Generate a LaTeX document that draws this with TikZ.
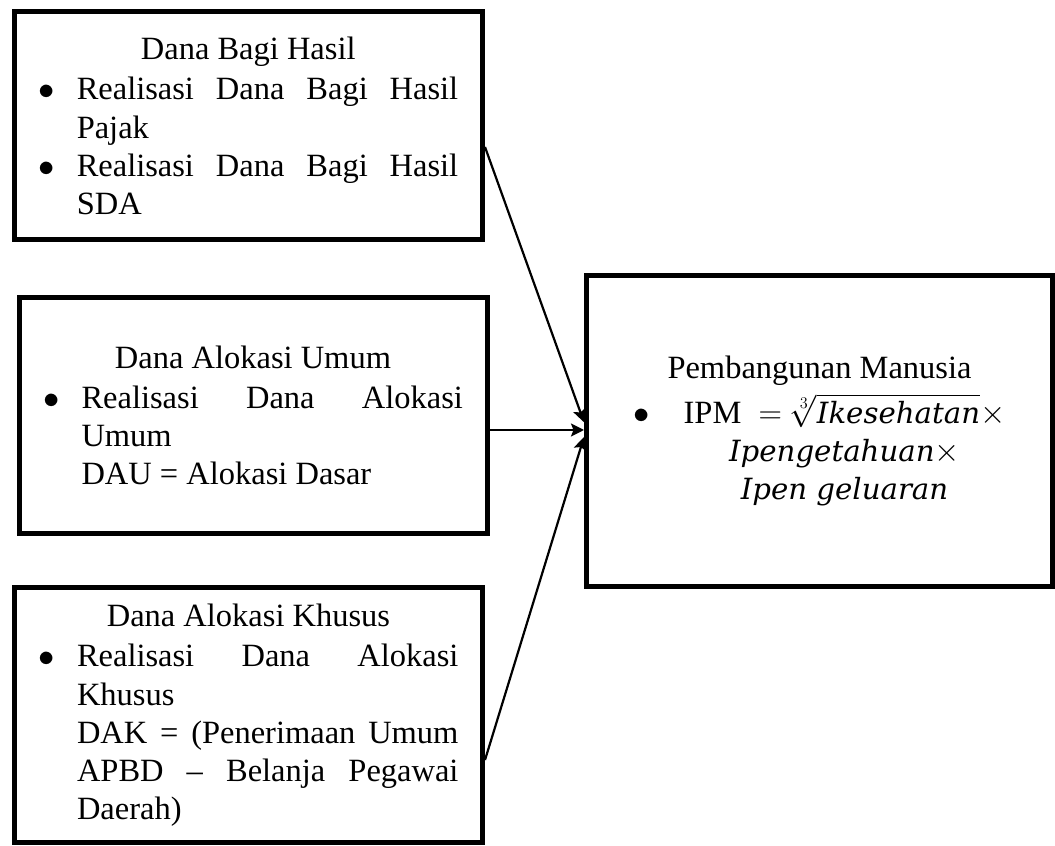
\RequirePackage{fix-cm}
\documentclass[tikz,border=0pt]{standalone}
\usepackage{fontspec}
\setmainfont{Liberation Serif}
\newfontfamily\ipmfont{DejaVu Serif}[Scale=0.9]
\usepackage{tikz}
\usetikzlibrary{arrows.meta,shapes}

\newlength{\itemind}\setlength{\itemind}{38.5bp}
\newcommand{\aturteks}{\tolerance=9999 \hbadness=10000 \hyphenpenalty=10000 \parindent=0pt\relax}
\newcommand{\judul}[1]{{\centering #1\par}\vspace{2bp}}
\newcommand{\titik}{$\bullet$}
\newcommand{\itm}[1]{\par\noindent\hangindent=\itemind\hangafter=1\makebox[\itemind][l]{\titik}#1\par}
\newcommand{\mvar}[1]{\hbox{\ipmfont\itshape #1}}

\begin{document}
\begin{tikzpicture}[>={Stealth[length=13bp,width=13bp,inset=2.5bp]},
  kotak/.style={draw,fill=white,line width=5bp,inner xsep=24bp,inner ysep=0bp,
    text width=420bp,align=justify,font=\fontsize{32.6}{38.4}\selectfont,
    execute at begin node=\aturteks},
  panah/.style={->,line width=2.2bp}]
\useasboundingbox (0bp,0bp) rectangle (1055bp,846bp);
%%
\node (DBH) at (248.25bp,720.0bp) [kotak,minimum width=468.5bp,minimum height=228bp] {%
  \judul{Dana Bagi Hasil}
  \itm{Realisasi Dana Bagi Hasil Pajak}
  \itm{Realisasi Dana Bagi Hasil SDA}};
  \node (DAU) at (253.0bp,430.5bp) [kotak,minimum width=468bp,minimum height=236bp] {%
  \judul{Dana Alokasi Umum}
  \itm{Realisasi Dana Alokasi Umum\newline DAU = Alokasi Dasar}};
  \node (DAK) at (248.5bp,130.5bp) [kotak,minimum width=468bp,minimum height=255bp] {%
  \judul{Dana Alokasi Khusus}
  \itm{Realisasi Dana Alokasi Khusus\newline DAK = (Penerimaan Umum APBD -- Belanja Pegawai Daerah)}};
  \node (IPM) at (819.5bp,414.75bp) [kotak,text width=418bp,minimum width=466bp,minimum height=311.5bp] {%
  \judul{Pembangunan Manusia}\vspace{4bp}
  \noindent\makebox[72.5bp][l]{\hspace{23bp}\titik}\parbox[t]{323bp}{\centering
    IPM $\;=\sqrt[3]{\mvar{Ikesehatan}}\times$\\
    $\mvar{Ipengetahuan}\times$\\
    $\mvar{Ipen geluaran}$\par}};
%
  \draw [panah] ([yshift=-21bp]DBH.east) -- ([yshift=9bp]IPM.west);
  \draw [panah] ([yshift=-14.5bp]DAU.east) -- ([yshift=-14.5bp]DAU.east -| IPM.west);
  \draw [panah] ([yshift=-44.5bp]DAK.east) -- ([yshift=-5.75bp]IPM.west);
%
\end{tikzpicture}
\end{document}
